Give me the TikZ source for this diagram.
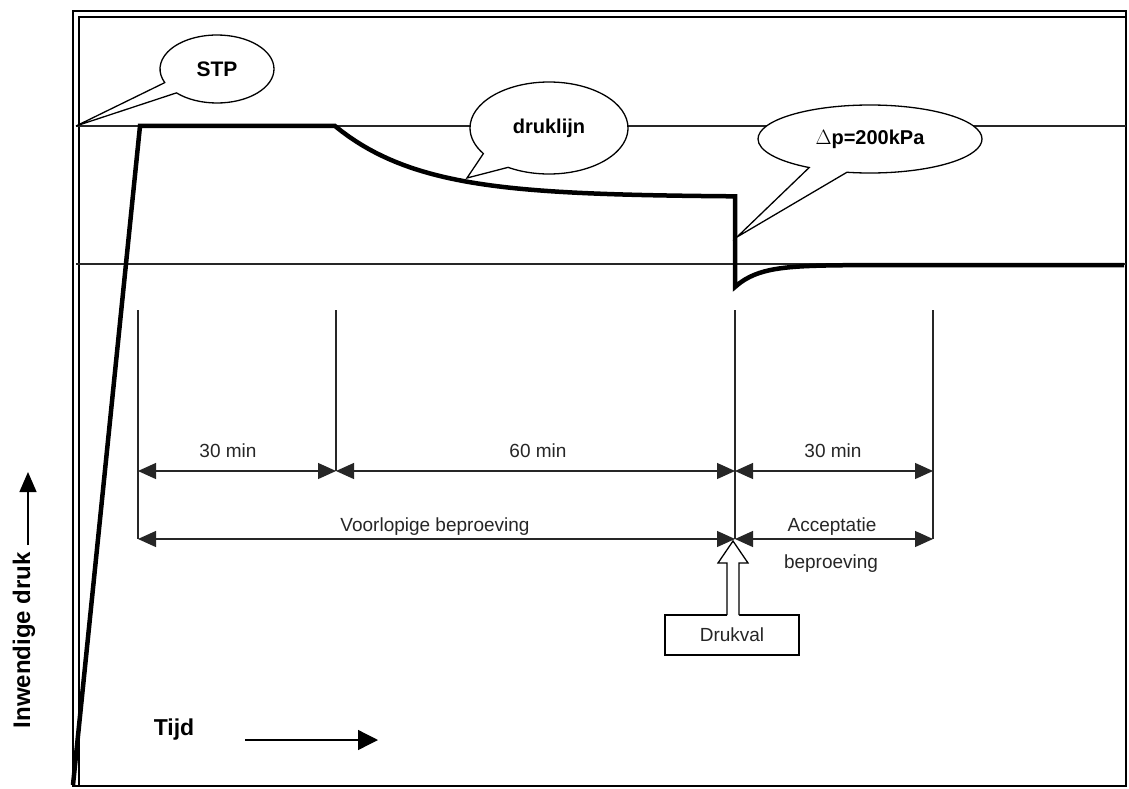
\documentclass[tikz,border=0pt]{standalone}
\usepackage{fontspec}
\setmainfont{Liberation Sans}
\usetikzlibrary{arrows.meta,shapes.callouts,shapes.geometric}
\begin{document}
\begin{tikzpicture}[x=1pt,y=-1pt,
  thinline/.style={line width=1.2pt, black!85},
  curve/.style={line width=4.5pt, line join=miter},
  dim/.style={line width=1.2pt, black!85, {Triangle[length=18pt,width=16pt]}-{Triangle[length=18pt,width=16pt]}},
  bubble/.style={ellipse callout, draw, line width=1.3pt, fill=white, inner sep=0pt, font=\bfseries\fontsize{20}{24}\selectfont},
  lbl/.style={font=\fontsize{19}{22}\selectfont, inner sep=1pt, text=black!85}]
\useasboundingbox (0,0) rectangle (1129,789);
\fill[white] (0,0) rectangle (1129,789);
% frame
\draw[line width=2.4pt] (73,11) rectangle (1126,786);
\draw[line width=1.2pt] (79,786) -- (79,17) -- (1126,17);
% reference lines
\coordinate (L1) at (76,126); \coordinate (R1) at (1126,126);
\coordinate (L2) at (76,264); \coordinate (R2) at (1126,264);
\draw[thinline] (L1) -- (R1);
\draw[thinline] (L2) -- (R2);
% pressure curve
\draw[curve] (73,785) -- (140,126) -- (335,126)
  -- plot[domain=335:735, samples=60] (\x, {126+71*(1-exp(-(\x-335)/86))})
  -- (735,287)
  -- plot[domain=735:1124, samples=80] (\x, {265+22*exp(-(\x-735)/24)});
% extension lines
\coordinate (v1t) at (138,310); \coordinate (v1b) at (138,539);
\coordinate (v2t) at (336,310); \coordinate (v2b) at (336,471);
\coordinate (v3t) at (735,310); \coordinate (v3b) at (735,539);
\coordinate (v4t) at (933,310); \coordinate (v4b) at (933,539);
\draw[thinline] (v1t) -- (v1b);
\draw[thinline] (v2t) -- (v2b);
\draw[thinline] (v3t) -- (v3b);
\draw[thinline] (v4t) -- (v4b);
% dimension arrows
\coordinate (a1) at (138,471); \coordinate (a2) at (336,471);
\coordinate (a3) at (735,471); \coordinate (a4) at (933,471);
\coordinate (b1) at (138,539); \coordinate (b3) at (735,539);
\coordinate (b4) at (933,539);
\draw[dim] (a1) -- (a2);
\draw[dim] (a2) -- (a3);
\draw[dim] (a3) -- (a4);
\draw[dim] (b1) -- (b3);
\draw[dim] (b3) -- (b4);
\node[lbl] (t30a) at (228,451) {30 min};
\node[lbl] (t60) at (538,451) {60 min};
\node[lbl] (t30b) at (833,451) {30 min};
\node[lbl] (tvoor) at (435,527) {Voorlopige beproeving};
\node[lbl] (tacc) at (832,527) {Acceptatie};
\node[lbl] (tbep) at (831,564) {beproeving};
% bubbles
\coordinate (tipstp) at (76,126);
\coordinate (tipdruk) at (467,178);
\coordinate (tipdp) at (737,237);
\node[bubble, minimum width=114pt, minimum height=68pt, callout absolute pointer={(tipstp)}, callout pointer arc=21, font=\bfseries\fontsize{21}{24}\selectfont] (stp) at (217,69) {STP};
\node[bubble, minimum width=158pt, minimum height=92pt, callout absolute pointer={(tipdruk)}, callout pointer arc=25] (druk) at (549,128) {druklijn};
\node[bubble, minimum width=224pt, minimum height=68pt, callout absolute pointer={(tipdp)}, callout pointer arc=21] (dp) at (870,139) {$\Delta$p=200kPa};
% Drukval box and hollow arrow
\node[draw, line width=1.3pt, minimum width=134pt, minimum height=40pt, lbl, inner sep=0pt] (dv) at (732,635) {Drukval};
\coordinate (dvtip) at (733,541);
\fill[white] (727,617) -- (727,563) -- (718,563) -- (dvtip) -- (748,563) -- (739,563) -- (739,617) -- cycle;
\draw[line width=1.3pt, line join=miter] (727,615) -- (727,563) -- (718,563) -- (dvtip) -- (748,563) -- (739,563) -- (739,615);
% axis labels
\node[font=\bfseries\fontsize{23}{26}\selectfont] (tijd) at (174,730) {Tijd};
\coordinate (ta) at (245,740); \coordinate (tb) at (378,740);
\draw[line width=1.3pt, -{Triangle[length=20pt,width=20pt]}] (ta) -- (tb);
\node[rotate=90, font=\bfseries\fontsize{24}{28}\selectfont] (inw) at (24,640) {Inwendige druk};
\coordinate (ia) at (28,545); \coordinate (ib) at (28,472);
\draw[line width=1.3pt, -{Triangle[length=20pt,width=17pt]}] (ia) -- (ib);
\end{tikzpicture}
\end{document}
